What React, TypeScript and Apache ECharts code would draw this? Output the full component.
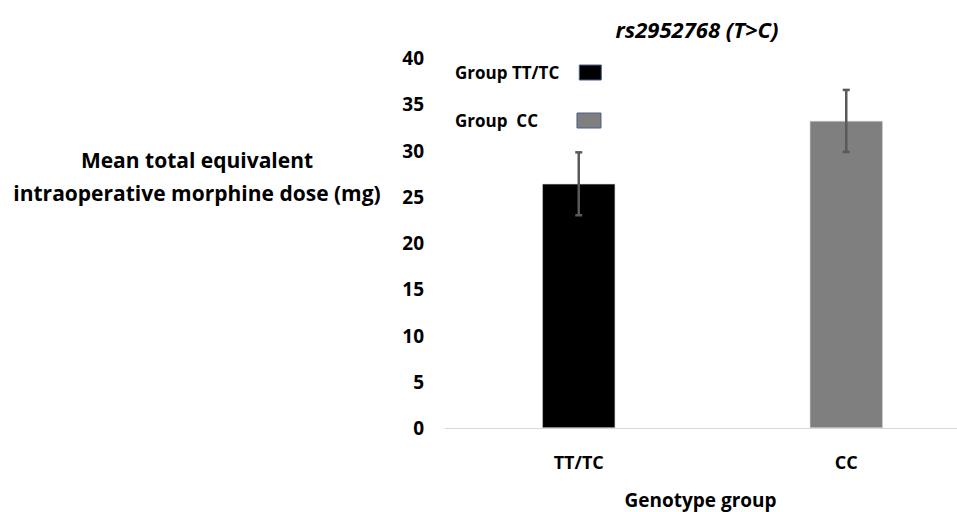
import React, { useEffect, useRef } from "react";
import * as echarts from "echarts";

const categories = ["TT/TC", "CC"];
const seriesNames = ["Group TT/TC", "Group  CC"];
const meanValues = [26.4, 33.2];
const errorValues = [3.4, 3.35];
const barColors = ["#000000", "#7f7f7f"];
const yTicks = { min: 0, max: 40, interval: 5 };

const FONT = "'Open Sans', Lato, sans-serif";

export default function App() {
  const ref = useRef<HTMLDivElement>(null);
  useEffect(() => {
    if (!ref.current) return;
    const chart = echarts.init(ref.current, undefined, { renderer: "svg" });
    const barSeries = seriesNames.map((name, i) => ({
      name,
      type: "bar" as const,
      stack: "s",
      barWidth: 73,
      data: categories.map((_, j) => (j === i ? meanValues[j] : "-")),
      itemStyle: { color: barColors[i], borderColor: "#d0d0d0", borderWidth: 0.6 },
    }));
    const errData = categories.map((_, j) => [j, meanValues[j] - errorValues[j], meanValues[j] + errorValues[j]]);
    const legendText = { fontFamily: FONT, fontSize: 17, fontWeight: "bold", color: "#000" };
    chart.setOption({
      animation: false,
      title: {
        text: "rs2952768 (T>C)",
        left: 692,
        top: 13,
        textAlign: "center",
        textStyle: { fontFamily: FONT, fontSize: 22, fontWeight: "bold", fontStyle: "italic", color: "#000" },
      },
      legend: [
        {
          data: [seriesNames[0]],
          left: 450,
          top: 59,
          align: "right",
          icon: "rect",
          itemWidth: 22,
          itemHeight: 15,
          itemGap: 0,
          selectedMode: false,
          textStyle: { ...legendText, padding: [0, 15, 0, 0] },
          itemStyle: { borderColor: "#4a5f8a", borderWidth: 1 },
        },
        {
          data: [seriesNames[1]],
          left: 450,
          top: 107,
          align: "right",
          icon: "rect",
          itemWidth: 24,
          itemHeight: 15,
          itemGap: 0,
          selectedMode: false,
          textStyle: { ...legendText, padding: [0, 34, 0, 0] },
          itemStyle: { borderColor: "#4a5f8a", borderWidth: 1 },
        },
      ],
      grid: { left: 445, right: -23, top: 58, bottom: 84, outerBoundsMode: "none", containLabel: false },
      xAxis: {
        type: "category",
        data: categories,
        name: "Genotype group",
        nameLocation: "middle",
        nameGap: 62,
        nameTextStyle: { fontFamily: FONT, fontSize: 19, fontWeight: "bold", color: "#000", padding: [0, 24, 0, 0] },
        axisLine: { lineStyle: { color: "#d9d9d9", width: 1 } },
        axisTick: { show: false },
        axisLabel: { fontFamily: FONT, fontSize: 18, fontWeight: "bold", color: "#000", margin: 25 },
      },
      yAxis: {
        type: "value",
        min: yTicks.min,
        max: yTicks.max,
        interval: yTicks.interval,
        axisLine: { show: false },
        axisTick: { show: false },
        splitLine: { show: false },
        axisLabel: { fontFamily: FONT, fontSize: 19, fontWeight: "bold", color: "#000", margin: 21 },
      },
      graphic: [
        {
          type: "text",
          x: 197,
          y: 143,
          style: {
            text: "Mean total equivalent\nintraoperative morphine dose (mg)",
            font: `bold 21px ${FONT}`,
            fill: "#000",
            align: "center",
            lineHeight: 33,
          },
        },
      ],
      series: [
        ...barSeries,
        {
          type: "custom",
          name: "err",
          data: errData,
          z: 10,
          renderItem: (params: any, api: any) => {
            const x = api.value(0);
            const lo = api.coord([x, api.value(1)]);
            const hi = api.coord([x, api.value(2)]);
            const cap = 3.5;
            const style = { stroke: "#595959", lineWidth: 2.5 };
            return {
              type: "group",
              children: [
                { type: "line", shape: { x1: lo[0], y1: lo[1], x2: hi[0], y2: hi[1] }, style },
                { type: "line", shape: { x1: lo[0] - cap, y1: lo[1], x2: lo[0] + cap, y2: lo[1] }, style },
                { type: "line", shape: { x1: hi[0] - cap, y1: hi[1], x2: hi[0] + cap, y2: hi[1] }, style },
              ],
            };
          },
        },
      ],
    });
    return () => chart.dispose();
  }, []);
  return (
    <div
      ref={ref}
      style={{ position: "fixed", left: 0, top: 0, width: 957, height: 512, background: "#fff" }}
    />
  );
}
